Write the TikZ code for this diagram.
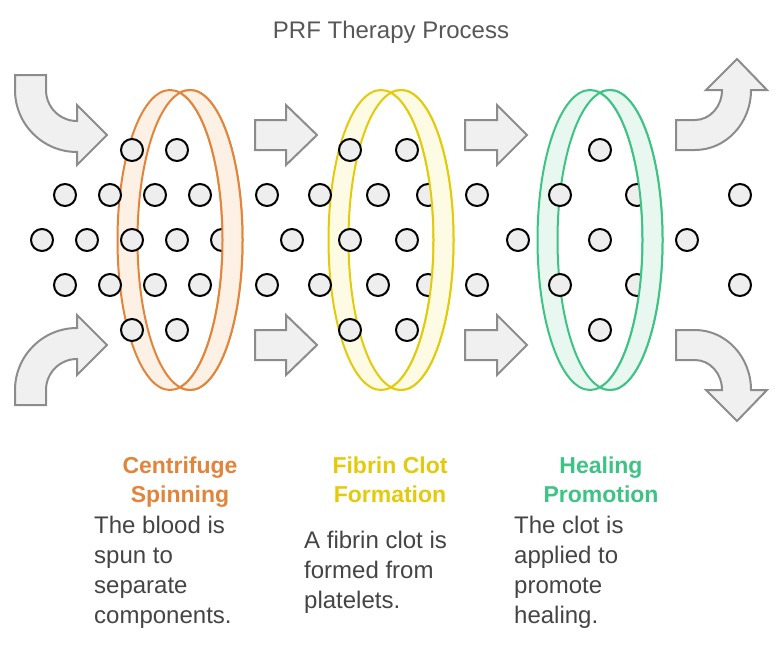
\documentclass[tikz,border=0pt]{standalone}
\usepackage{fontspec}
\setmainfont{Liberation Sans}
\usetikzlibrary{positioning}

\definecolor{spinorange}{HTML}{E2843A}
\definecolor{spinfill}{HTML}{FDF1E6}
\definecolor{clotyellow}{HTML}{E3CB0B}
\definecolor{clotfill}{HTML}{FEFBE5}
\definecolor{healgreen}{HTML}{3DC384}
\definecolor{healfill}{HTML}{E8F8F0}
\definecolor{arrowgray}{HTML}{8C8C8C}
\definecolor{arrowfill}{HTML}{F0F0F0}
\definecolor{dotfill}{HTML}{EEEEEE}
\definecolor{textgray}{HTML}{444444}

% back half of a ring: both crescents, behind the cells
\newcommand{\ringback}[3]{%
  \fill[#3, even odd rule] (#1-10,240) ellipse [x radius=52.5pt, y radius=150pt]
                           (#1+10,240) ellipse [x radius=52.5pt, y radius=150pt];
  \draw[#2, line width=2pt] (#1-10,240) ellipse [x radius=52.5pt, y radius=150pt]
                            (#1+10,240) ellipse [x radius=52.5pt, y radius=150pt];
}
% front crescent of a ring, drawn over the cells
\newcommand{\ringfront}[3]{%
  \begin{scope}
    \clip (#1,80) rectangle (#1+80,400);
    \fill[#3, even odd rule] (#1-10,240) ellipse [x radius=52.5pt, y radius=150pt]
                             (#1+10,240) ellipse [x radius=52.5pt, y radius=150pt];
    \draw[#2, line width=2pt] (#1-10,240) ellipse [x radius=52.5pt, y radius=150pt]
                              (#1+10,240) ellipse [x radius=52.5pt, y radius=150pt];
  \end{scope}
}

\begin{document}
\begin{tikzpicture}[
  x=1pt, y=-1pt,
  cell/.style={circle, draw=black, fill=dotfill, line width=2pt, minimum size=22pt, inner sep=0pt},
  blockarrow/.style={draw=arrowgray, fill=arrowfill, line width=2pt, line join=miter},
  title/.style={font=\fontsize{24}{28}\selectfont, text=textgray!90, inner sep=0pt},
  heading/.style={font=\fontsize{23}{29}\selectfont\bfseries, align=center, inner sep=0pt, anchor=north},
  desc/.style={font=\fontsize{24}{30}\selectfont, text=textgray, align=left, inner sep=0pt, anchor=north west}
]
\useasboundingbox (0,0) rectangle (783,645);

% Title
\node[title, anchor=base] (title) at (391,38) {PRF Therapy Process};

% Rings (back)
\ringback{180}{spinorange}{spinfill}
\ringback{391}{clotyellow}{clotfill}
\ringback{600}{healgreen}{healfill}

% Cells
\foreach \cx [count=\i] in {132,177,350,407,600} {
  \node[cell] (top\i) at (\cx,150) {};
  \node[cell] (bot\i) at (\cx,330) {};
}
\foreach \cx [count=\i] in {65,110,155,200,267,320,378,428,477,560,637,740} {
  \node[cell] (up\i) at (\cx,195) {};
  \node[cell] (lo\i) at (\cx,285) {};
}
\foreach \cx [count=\i] in {42,87,132,177,222,292,350,407,518,600,687}
  \node[cell] (mid\i) at (\cx,240) {};

% Rings (front)
\ringfront{180}{spinorange}{spinfill}
\ringfront{391}{clotyellow}{clotfill}
\ringfront{600}{healgreen}{healfill}

% Incoming curved arrows
\draw[blockarrow] (15,75) -- (46,75) -- (46,90) arc[start angle=180, end angle=270, radius=31pt]
  -- (77,105) -- (107,135) -- (77,165) -- (77,152) arc[start angle=270, end angle=180, radius=62pt] -- cycle;
\draw[blockarrow] (15,405) -- (46,405) -- (46,390) arc[start angle=180, end angle=90, radius=31pt]
  -- (77,375) -- (107,345) -- (77,315) -- (77,328) arc[start angle=90, end angle=180, radius=62pt] -- cycle;

% Straight arrows between rings
\draw[blockarrow] (255,120) -- (286,120) -- (286,105) -- (317,135) -- (286,165) -- (286,150) -- (255,150) -- cycle;
\draw[blockarrow] (255,330) -- (286,330) -- (286,315) -- (317,345) -- (286,375) -- (286,360) -- (255,360) -- cycle;
\draw[blockarrow] (465,120) -- (497,120) -- (497,105) -- (527,135) -- (497,165) -- (497,150) -- (465,150) -- cycle;
\draw[blockarrow] (465,330) -- (497,330) -- (497,315) -- (527,345) -- (497,375) -- (497,360) -- (465,360) -- cycle;

% Outgoing curved arrows
\draw[blockarrow] (676,120) -- (695,120) arc[start angle=270, end angle=360, x radius=27pt, y radius=30pt]
  -- (706,90) -- (737,59) -- (767,90) -- (751,90) arc[start angle=0, end angle=-90, x radius=56pt, y radius=60pt]
  -- (676,150) -- cycle;
\draw[blockarrow] (676,360) -- (695,360) arc[start angle=90, end angle=0, x radius=27pt, y radius=30pt]
  -- (706,390) -- (737,421) -- (767,390) -- (751,390) arc[start angle=0, end angle=90, x radius=56pt, y radius=60pt]
  -- (676,330) -- cycle;

% Step labels
\node[heading, text=spinorange] (spinhead) at (180,457) {Centrifuge\\Spinning};
\node[heading, text=clotyellow] (clothead) at (390,457) {Fibrin Clot\\Formation};
\node[heading, text=healgreen] (healhead) at (601,457) {Healing\\Promotion};

\node[desc] (spindesc) at (94,516) {The blood is\\spun to\\separate\\components.};
\node[desc] (clotdesc) at (304,531) {A fibrin clot is\\formed from\\platelets.};
\node[desc] (healdesc) at (514,516) {The clot is\\applied to\\promote\\healing.};

\end{tikzpicture}
\end{document}
